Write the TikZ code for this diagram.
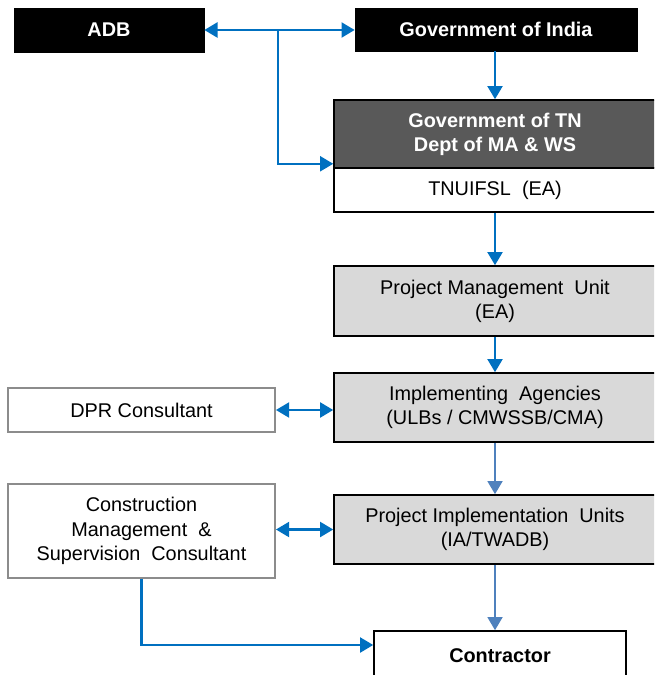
\documentclass[tikz,border=0pt]{standalone}
\usepackage{fontspec}
\setmainfont{Liberation Sans}
\usetikzlibrary{arrows.meta}
\definecolor{linkblue}{RGB}{0,112,192}
\definecolor{paleblue}{RGB}{79,129,189}
\definecolor{darkbox}{RGB}{89,89,89}
\definecolor{lightbox}{RGB}{217,217,217}
\definecolor{consgrey}{RGB}{140,140,140}
\begin{document}
\begin{tikzpicture}[x=0.02cm, y=-0.02cm,
        txt/.style={font=\fontsize{11.3}{13.8}\selectfont, align=center, inner sep=0pt},
        topbox/.style={txt, draw=black, fill=black, text=white, font=\fontsize{11.3}{13.8}\selectfont\bfseries},
        agency/.style={txt, draw=black, line width=0.9pt, minimum width=6.44cm},
        govbox/.style={agency, fill=darkbox, text=white, font=\fontsize{11.3}{13.8}\selectfont\bfseries},
        unitbox/.style={agency, fill=lightbox},
        consbox/.style={txt, draw=consgrey, line width=1.1pt, fill=white, minimum width=5.34cm},
        flowarrow/.style={draw=linkblue, line width=1.4pt, -{Triangle[length=7.5pt, width=8.5pt]}},
        twoway/.style={flowarrow, {Triangle[length=7.5pt, width=8.5pt]}-{Triangle[length=7.5pt, width=8.5pt]}},
        paleflow/.style={flowarrow, draw=paleblue, line width=1.2pt}]
    \useasboundingbox (0,0) rectangle (654,675);
    \clip (0,0) rectangle (654,675);

    \node[topbox, minimum width=3.8cm, minimum height=0.88cm] (adb) at (109,30) {ADB};
    \node[topbox, minimum width=5.64cm, minimum height=0.86cm] (goi) at (496,29.5) {Government of India};
    \node[govbox, minimum height=1.36cm] (gotn) at (495,134) {Government of TN\\Dept of MA \& WS};
    \node[agency, fill=white, minimum height=0.88cm] (tnuifsl) at (495,190) {TNUIFSL\ \ (EA)};
    \node[unitbox, minimum height=1.4cm] (pmu) at (495,301) {Project Management\ \ Unit\\(EA)};
    \node[unitbox, minimum height=1.38cm] (ia) at (495,407.5) {Implementing\ \ Agencies\\(ULBs / CMWSSB/CMA)};
    \node[unitbox, minimum height=1.38cm] (piu) at (495,529.5) {Project Implementation\ \ Units\\(IA/TWADB)};
    \node[agency, fill=white, minimum width=5.04cm, minimum height=1cm, font=\fontsize{11.3}{13.8}\selectfont\bfseries] (con) at (500,656) {Contractor};
    \node[consbox, minimum height=0.88cm] (dpr) at (141.5,410) {DPR Consultant};
    \node[consbox, minimum height=1.88cm] (cmsc) at (141.5,531) {Construction\\Management\ \ \&\\Supervision\ \ Consultant};

    \coordinate (split) at (278,30);
    \draw[twoway] (adb.east) -- (adb.east -| goi.west);
    \draw[flowarrow] (split) |- ([yshift=0.1cm]gotn.south west);
    \draw[flowarrow] (goi.south -| gotn.north) -- (gotn.north);
    \draw[flowarrow] (tnuifsl.south) -- (pmu.north);
    \draw[flowarrow] (pmu.south) -- (ia.north);
    \draw[paleflow] (ia.south) -- (piu.north);
    \draw[paleflow] (piu.south) -- (piu.south |- con.north);
    \draw[twoway] (dpr.east) -- (dpr.east -| ia.west);
    \draw[twoway] (piu.west -| cmsc.east) -- (piu.west);
    \draw[flowarrow] (cmsc.south) |- ([yshift=0.22cm]con.west);
\end{tikzpicture}
\end{document}
